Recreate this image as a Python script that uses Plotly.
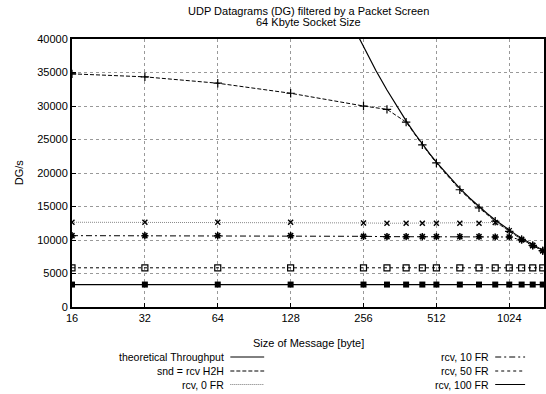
import plotly.graph_objects as go
import math

# ---------------- data ----------------
sizes = [16, 32, 64, 128, 256, 320, 384, 448, 512, 640, 768, 896, 1024, 1152, 1280, 1408]
snd_h2h = [34800, 34350, 33400, 31900, 30000, 29500, 27600, 24200, 21500, 17500, 14800, 12800, 11300, 10100, 9200, 8400]
rcv_0fr = [12650, 12650, 12650, 12650, 12550, 12500, 12500, 12500, 12500, 12500, 12500, 12600, 11400, 10100, 9200, 8400]
rcv_10fr = [10650, 10650, 10650, 10650, 10550, 10500, 10500, 10500, 10500, 10500, 10500, 10450, 10450, 10000, 9150, 8400]
rcv_50fr = [5850, 5850, 5850, 5850, 5850, 5850, 5850, 5850, 5850, 5850, 5850, 5850, 5850, 5850, 5850, 5850]
rcv_100fr = [3350, 3350, 3350, 3350, 3350, 3350, 3350, 3350, 3350, 3350, 3350, 3350, 3350, 3350, 3350, 3350]

theo_sizes = [240, 256, 288, 320, 352, 384, 416, 448, 480, 512, 576, 640, 704, 768, 832, 896,
              960, 1024, 1088, 1152, 1216, 1280, 1344, 1408, 1472]
theo_vals = [40850, 38820, 35310, 32380, 29900, 27780, 25930, 24320, 22890, 21630, 19470, 17700,
             16230, 14990, 13920, 12990, 12180, 11470, 10830, 10260, 9750, 9290, 8870, 8480, 8130]

x_ticks = [16, 32, 64, 128, 256, 512, 1024]
y_ticks = [0, 5000, 10000, 15000, 20000, 25000, 30000, 35000, 40000]

title_lines = ["UDP Datagrams (DG) filtered by a Packet Screen", "64 Kbyte Socket Size"]
x_title = "Size of Message [byte]"
y_title = "DG/s"

legend_left = ["theoretical Throughput", "snd = rcv H2H", "rcv, 0 FR"]
legend_right = ["rcv, 10 FR", "rcv, 50 FR", "rcv, 100 FR"]

FONT = "Liberation Sans, Arial, sans-serif"

fig = go.Figure()

fig.add_trace(go.Scatter(x=theo_sizes, y=theo_vals, mode="lines",
                         line=dict(color="black", width=1.2), name=legend_left[0]))
fig.add_trace(go.Scatter(x=sizes, y=snd_h2h, mode="lines+markers",
                         line=dict(color="black", width=1, dash="4px,2px"),
                         marker=dict(symbol="cross-thin", size=6, line=dict(color="black", width=1.2)),
                         name=legend_left[1]))
fig.add_trace(go.Scatter(x=sizes, y=rcv_0fr, mode="lines+markers",
                         line=dict(color="#888888", width=1, dash="1px,1px"),
                         marker=dict(symbol="x-thin", size=5, line=dict(color="black", width=1.4)),
                         name=legend_left[2]))
fig.add_trace(go.Scatter(x=sizes, y=rcv_10fr, mode="lines+markers",
                         line=dict(color="black", width=1, dash="6px,3px,2px,3px"),
                         marker=dict(symbol="asterisk", size=6, line=dict(color="black", width=1.5)),
                         name=legend_right[0]))
fig.add_trace(go.Scatter(x=sizes, y=rcv_50fr, mode="lines+markers",
                         line=dict(color="black", width=1, dash="3px,3px"),
                         marker=dict(symbol="square-open", size=6, color="black", line=dict(color="black", width=1.2)),
                         name=legend_right[1]))
fig.add_trace(go.Scatter(x=sizes, y=rcv_100fr, mode="lines+markers",
                         line=dict(color="black", width=1.2),
                         marker=dict(symbol="square", size=6, color="black"),
                         name=legend_right[2]))

W, H = 546, 394
L, R, T, B = 72, 0, 39, 87
pw, ph = W - L - R, H - T - B


def px(xp):
    return (xp - L) / pw


def py(yp):
    return (H - B - yp) / ph


annotations = [
    dict(text=title_lines[0], x=px(310), y=py(11), xref="paper", yref="paper",
         showarrow=False, font=dict(size=11, color="black", family=FONT), xanchor="center", yanchor="middle"),
    dict(text=title_lines[1], x=px(310), y=py(22), xref="paper", yref="paper",
         showarrow=False, font=dict(size=11, color="black", family=FONT), xanchor="center", yanchor="middle"),
    dict(text=x_title, x=px(310), y=py(343), xref="paper", yref="paper", showarrow=False,
         font=dict(size=11, color="black", family=FONT), xanchor="center", yanchor="middle"),
    dict(text=y_title, x=px(19), y=py(172), xref="paper", yref="paper", showarrow=False, textangle=-90,
         font=dict(size=11, color="black", family=FONT), xanchor="center", yanchor="middle"),
]

shapes = []
left_dashes = ["solid", "4px,2px", "1px,1px"]
left_cols = ["black", "black", "#777777"]
right_dashes = ["6px,3px,2px,3px", "3px,3px", "solid"]
rows = [357.0, 371.0, 384.5]
for i, txt in enumerate(legend_left):
    annotations.append(dict(text=txt, x=px(227), y=py(rows[i]), xref="paper", yref="paper", showarrow=False,
                            xanchor="right", yanchor="middle", font=dict(size=10.5, color="black", family=FONT)))
    shapes.append(dict(type="line", xref="paper", yref="paper", x0=px(231), x1=px(265), y0=py(rows[i]), y1=py(rows[i]),
                       line=dict(color=left_cols[i], width=1, dash=left_dashes[i])))
for i, txt in enumerate(legend_right):
    annotations.append(dict(text=txt, x=px(493), y=py(rows[i]), xref="paper", yref="paper", showarrow=False,
                            xanchor="right", yanchor="middle", font=dict(size=10.5, color="black", family=FONT)))
    shapes.append(dict(type="line", xref="paper", yref="paper", x0=px(497), x1=px(527), y0=py(rows[i]), y1=py(rows[i]),
                       line=dict(color="black", width=1, dash=right_dashes[i])))

fig.update_layout(
    width=W, height=H,
    margin=dict(l=L, r=R, t=T, b=B),
    paper_bgcolor="white", plot_bgcolor="white",
    showlegend=False,
    font=dict(family=FONT, size=11, color="black"),
    annotations=annotations,
    shapes=shapes,
)

fig.update_xaxes(type="log", range=[math.log10(16), math.log10(1425)],
                 tickvals=x_ticks, ticktext=[str(v) for v in x_ticks],
                 showgrid=True, gridcolor="#999999", griddash="dot", gridwidth=1,
                 showline=True, linecolor="black", linewidth=2, mirror=True,
                 ticks="inside", ticklen=4, tickcolor="black",
                 tickfont=dict(size=11, family=FONT, color="black"), zeroline=False)
fig.update_yaxes(range=[0, 40000], tickvals=y_ticks, ticktext=[str(v) for v in y_ticks],
                 showgrid=True, gridcolor="#999999", griddash="dot", gridwidth=1,
                 showline=True, linecolor="black", linewidth=2, mirror=True,
                 ticks="inside", ticklen=4, tickcolor="black",
                 tickfont=dict(size=11, family=FONT, color="black"), zeroline=False)

fig.write_html("out.html")
